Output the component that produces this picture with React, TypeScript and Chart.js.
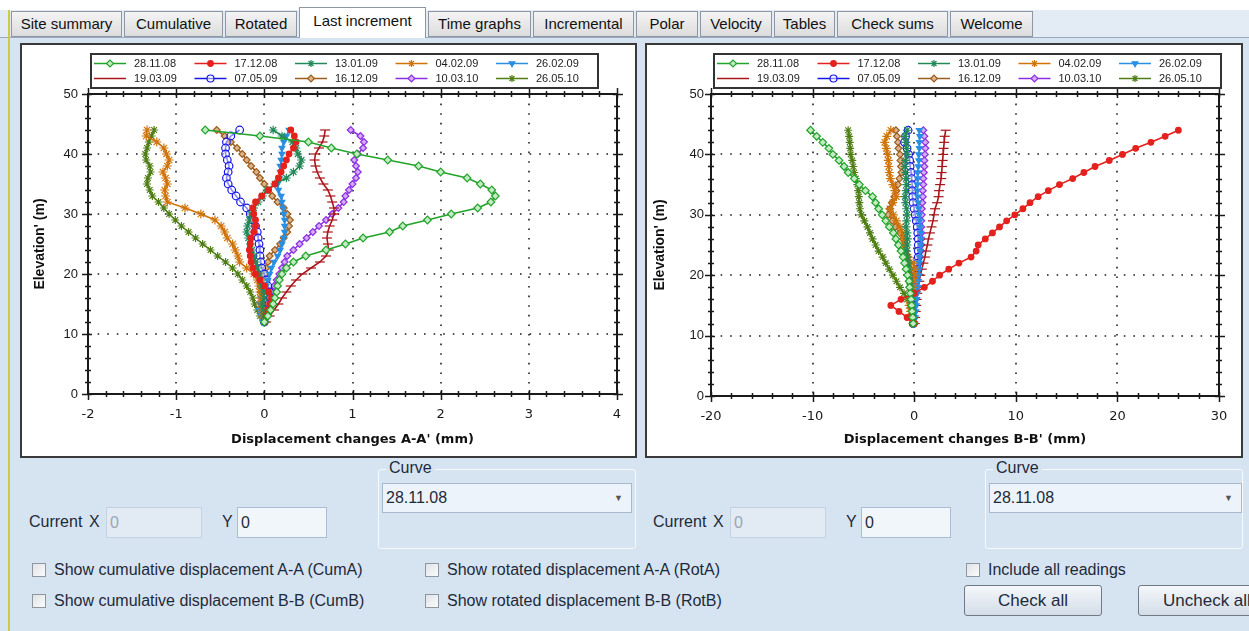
import React, { useEffect, useRef } from 'react';
import { Chart, registerables } from 'chart.js';
import { drawPoint } from 'chart.js/helpers';

Chart.register(...registerables);
Chart.defaults.font.family = '"Liberation Sans", Arial, sans-serif';

// ---------- data ----------
const ELEVATION = [44, 43, 42, 41, 40, 39, 38, 37, 36, 35, 34, 33, 32, 31, 30, 29, 28, 27, 26, 25, 24, 23, 22, 21, 20, 19, 18, 17, 16, 15, 14, 13, 12];
const READING_DATES = ['28.11.08', '17.12.08', '13.01.09', '04.02.09', '26.02.09', '19.03.09', '07.05.09', '16.12.09', '10.03.10', '26.05.10'];

const A_X_TICKS = [-2, -1, 0, 1, 2, 3, 4];
const B_X_TICKS = [-20, -10, 0, 10, 20, 30];
const Y_TICKS = [0, 10, 20, 30, 40, 50];

// Displacement changes A-A' (mm)
const A_28_11_08 = [-0.67, -0.05, 0.5, 0.76, 1.05, 1.4, 1.75, 2.0, 2.3, 2.45, 2.58, 2.62, 2.57, 2.42, 2.12, 1.85, 1.57, 1.42, 1.12, 0.92, 0.7, 0.47, 0.33, 0.25, 0.2, 0.17, 0.15, 0.14, 0.12, 0.1, 0.07, 0.04, 0.0];
const A_17_12_08 = [0.3, 0.34, 0.36, 0.33, 0.28, 0.25, 0.22, 0.19, 0.16, 0.12, 0.05, -0.03, -0.1, -0.13, -0.12, -0.1, -0.1, -0.12, -0.15, -0.16, -0.17, -0.16, -0.15, -0.13, -0.1, -0.05, 0.0, 0.05, 0.08, 0.06, 0.04, 0.02, 0.0];
const A_13_01_09 = [0.1, 0.2, 0.32, 0.36, 0.38, 0.42, 0.4, 0.33, 0.25, 0.12, 0.03, -0.02, -0.07, -0.12, -0.15, -0.17, -0.19, -0.2, -0.18, -0.16, -0.14, -0.12, -0.1, -0.08, -0.06, -0.04, -0.03, -0.01, 0.0, -0.02, -0.01, 0.0, 0.0];
const A_04_02_09 = [-1.33, -1.34, -1.22, -1.14, -1.11, -1.08, -1.1, -1.15, -1.12, -1.1, -1.13, -1.12, -1.1, -0.9, -0.72, -0.56, -0.49, -0.45, -0.42, -0.36, -0.33, -0.3, -0.28, -0.2, -0.12, -0.08, -0.06, -0.05, -0.04, -0.04, -0.03, -0.02, 0.0];
const A_26_02_09 = [0.28, 0.25, 0.22, 0.2, 0.2, 0.19, 0.18, 0.18, 0.17, 0.15, 0.16, 0.19, 0.2, 0.21, 0.22, 0.23, 0.23, 0.23, 0.22, 0.2, 0.18, 0.15, 0.11, 0.08, 0.06, 0.04, 0.02, -0.01, -0.04, -0.05, -0.06, -0.04, -0.02];
const A_19_03_09 = [0.69, 0.68, 0.66, 0.62, 0.58, 0.57, 0.58, 0.6, 0.63, 0.67, 0.72, 0.75, 0.77, 0.79, 0.79, 0.77, 0.74, 0.72, 0.71, 0.72, 0.73, 0.7, 0.63, 0.53, 0.43, 0.36, 0.3, 0.25, 0.2, 0.16, 0.11, 0.06, 0.02];
const A_07_05_09 = [-0.28, -0.38, -0.43, -0.44, -0.44, -0.42, -0.4, -0.41, -0.43, -0.41, -0.37, -0.32, -0.27, -0.2, -0.16, -0.13, -0.1, -0.08, -0.07, -0.06, -0.05, -0.05, -0.04, -0.03, 0.0, 0.02, 0.04, 0.06, 0.07, 0.05, 0.02, 0.01, 0.0];
const A_16_12_09 = [-0.54, -0.45, -0.38, -0.31, -0.25, -0.2, -0.15, -0.09, -0.05, 0.0, 0.04, 0.09, 0.15, 0.22, 0.26, 0.29, 0.28, 0.26, 0.22, 0.18, 0.12, 0.06, 0.04, 0.02, 0.0, -0.02, -0.04, -0.04, -0.03, -0.02, -0.02, -0.01, 0.0];
const A_10_03_10 = [0.98, 1.09, 1.13, 1.12, 1.06, 1.02, 1.04, 1.06, 1.04, 1.0, 0.96, 0.92, 0.9, 0.84, 0.77, 0.7, 0.62, 0.55, 0.48, 0.4, 0.33, 0.26, 0.23, 0.2, 0.17, 0.14, 0.11, 0.08, 0.05, 0.03, 0.02, 0.01, 0.0];
const A_26_05_10 = [-1.25, -1.28, -1.31, -1.33, -1.35, -1.34, -1.3, -1.29, -1.32, -1.33, -1.3, -1.27, -1.2, -1.14, -1.08, -1.01, -0.94, -0.86, -0.78, -0.7, -0.61, -0.53, -0.44, -0.36, -0.3, -0.25, -0.2, -0.16, -0.13, -0.11, -0.08, -0.05, 0.0];

// Displacement changes B-B' (mm)
const B_28_11_08 = [-10.2, -9.6, -9.0, -8.4, -8.0, -7.4, -6.9, -6.5, -5.9, -5.4, -4.8, -4.1, -3.8, -3.5, -3.15, -2.8, -2.45, -2.05, -1.8, -1.55, -1.3, -1.1, -0.95, -0.8, -0.65, -0.5, -0.45, -0.38, -0.3, -0.25, -0.2, -0.15, -0.1];
const B_17_12_08 = [26.0, 24.7, 23.3, 21.8, 20.5, 19.2, 17.8, 16.7, 15.6, 14.3, 13.2, 12.2, 11.4, 10.7, 9.9, 9.1, 8.4, 7.7, 7.0, 6.3, 6.1, 5.6, 4.4, 3.4, 2.5, 1.8, 1.0, 0.0, -1.3, -2.3, -1.5, -0.7, 0.0];
const B_13_01_09 = [-0.7, -0.9, -0.8, -0.75, -0.7, -0.85, -0.9, -0.85, -0.8, -0.75, -0.8, -0.9, -0.85, -0.75, -0.7, -0.75, -0.8, -0.7, -0.65, -0.7, -0.75, -0.7, -0.6, -0.55, -0.5, -0.45, -0.4, -0.3, -0.3, -0.25, -0.2, -0.15, -0.1];
const B_04_02_09 = [-2.3, -2.7, -2.9, -2.75, -2.6, -2.55, -2.5, -2.45, -2.35, -2.1, -1.9, -1.75, -2.1, -2.4, -2.05, -1.75, -1.4, -1.15, -1.0, -0.95, -0.9, -0.6, -0.1, 0.0, 0.0, -0.05, -0.15, -0.3, -0.45, -0.5, -0.35, -0.2, -0.1];
const B_26_02_09 = [0.5, 0.55, 0.5, 0.5, 0.45, 0.45, 0.4, 0.35, 0.35, 0.3, 0.3, 0.35, 0.4, 0.45, 0.5, 0.55, 0.6, 0.65, 0.7, 0.65, 0.6, 0.55, 0.5, 0.5, 0.45, 0.4, 0.35, 0.3, 0.25, 0.2, 0.15, 0.1, 0.05];
const B_19_03_09 = [3.1, 3.0, 2.95, 2.9, 2.85, 2.8, 2.75, 2.7, 2.65, 2.55, 2.45, 2.4, 2.25, 2.05, 1.95, 1.85, 1.7, 1.55, 1.4, 1.3, 1.15, 1.05, 0.9, 0.75, 0.6, 0.5, 0.4, 0.3, 0.25, 0.2, 0.15, 0.1, 0.05];
const B_07_05_09 = [-0.6, -0.85, -0.95, -0.7, -0.55, -0.45, -0.4, -0.3, -0.25, -0.2, -0.2, -0.15, -0.1, 0.0, 0.1, 0.2, 0.3, 0.35, 0.4, 0.4, 0.4, 0.4, 0.35, 0.3, 0.2, 0.15, 0.1, 0.05, 0.0, -0.05, -0.1, -0.1, -0.1];
const B_16_12_09 = [-1.8, -1.7, -1.6, -1.55, -1.4, -1.35, -1.3, -1.25, -1.45, -1.6, -1.75, -1.95, -2.2, -2.4, -2.55, -2.15, -1.85, -1.4, -1.1, -0.95, -0.8, -0.65, -0.5, -0.4, -0.3, -0.25, -0.2, -0.15, -0.15, -0.15, -0.15, -0.1, -0.1];
const B_10_03_10 = [0.9, 1.0, 1.1, 1.1, 1.05, 1.0, 1.0, 0.95, 0.9, 0.9, 0.85, 0.85, 0.8, 0.75, 0.75, 0.7, 0.7, 0.7, 0.7, 0.7, 0.65, 0.55, 0.45, 0.35, 0.3, 0.25, 0.2, 0.15, 0.1, 0.05, 0.0, 0.0, 0.0];
const B_26_05_10 = [-6.5, -6.4, -6.35, -6.3, -6.25, -6.1, -6.0, -5.9, -5.75, -5.6, -5.5, -5.45, -5.4, -5.35, -5.2, -4.9, -4.6, -4.35, -4.1, -3.8, -3.5, -3.1, -2.8, -2.45, -2.1, -1.75, -1.4, -1.0, -0.7, -0.4, -0.3, -0.2, -0.1];

const SERIES_A = [A_28_11_08, A_17_12_08, A_13_01_09, A_04_02_09, A_26_02_09, A_19_03_09, A_07_05_09, A_16_12_09, A_10_03_10, A_26_05_10];
const SERIES_B = [B_28_11_08, B_17_12_08, B_13_01_09, B_04_02_09, B_26_02_09, B_19_03_09, B_07_05_09, B_16_12_09, B_10_03_10, B_26_05_10];

// ---------- styles ----------
const SERIES_STYLE = [
  { color: '#22a32a', fill: '#c4ecc4', point: 'rectRot', radius: 3.8, rotation: 0, legendMarker: true },
  { color: '#e5211d', fill: '#e5211d', point: 'circle', radius: 2.8, rotation: 0, legendMarker: true },
  { color: '#23895a', fill: '#23895a', point: 'star', radius: 4.3, rotation: 0, legendMarker: true },
  { color: '#d07309', fill: '#d07309', point: 'star', radius: 4.5, rotation: 0, legendMarker: true },
  { color: '#2a8ee2', fill: '#2a8ee2', point: 'triangle', radius: 3.3, rotation: 180, legendMarker: true },
  { color: '#a8151a', fill: '#a8151a', point: 'line', radius: 5, rotation: 0, legendMarker: false },
  { color: '#1515e8', fill: 'rgba(255,255,255,0.5)', point: 'circle', radius: 3.8, rotation: 0, legendMarker: true },
  { color: '#9c5c1e', fill: '#dcb48a', point: 'rectRot', radius: 3.4, rotation: 0, legendMarker: true },
  { color: '#8c2ee3', fill: '#d5acf6', point: 'rectRot', radius: 3.4, rotation: 0, legendMarker: true },
  { color: '#4f7e14', fill: '#4f7e14', point: 'star', radius: 4, rotation: 0, legendMarker: true },
];

const UI_FONT = '"Liberation Sans", Arial, sans-serif';
const WIDE_FONT = '"DejaVu Sans", Verdana, sans-serif';

// ---------- plugins ----------
const framePlugin = {
  id: 'frameTicks',
  beforeDatasetsDraw(chart: any, _args: any, opts: any) {
    const { ctx, chartArea: ca } = chart;
    const xs = chart.scales.x;
    const ys = chart.scales.y;
    ctx.save();
    ctx.strokeStyle = '#1e1e1e';
    ctx.lineWidth = 1.6;
    ctx.setLineDash([1.6, 8]);
    opts.xTicks.slice(1, -1).forEach((v: number) => {
      const px = Math.round(xs.getPixelForValue(v));
      ctx.beginPath();
      ctx.moveTo(px, ca.top);
      ctx.lineTo(px, ca.bottom);
      ctx.stroke();
    });
    opts.yTicks.slice(1, -1).forEach((v: number) => {
      const py = Math.round(ys.getPixelForValue(v));
      ctx.beginPath();
      ctx.moveTo(ca.left, py);
      ctx.lineTo(ca.right, py);
      ctx.stroke();
    });
    ctx.restore();
  },
  afterDatasetsDraw(chart: any, _args: any, opts: any) {
    const { ctx, chartArea: ca } = chart;
    const xs = chart.scales.x;
    const ys = chart.scales.y;
    ctx.save();
    ctx.strokeStyle = '#1a1a1a';
    ctx.lineWidth = 2;
    ctx.strokeRect(ca.left, ca.top, ca.right - ca.left, ca.bottom - ca.top);
    ctx.lineWidth = 1.5;
    const xMin = opts.xTicks[0];
    const xMax = opts.xTicks[opts.xTicks.length - 1];
    const nx = Math.round((xMax - xMin) / opts.xMinor);
    const perX = Math.round((opts.xTicks[1] - opts.xTicks[0]) / opts.xMinor);
    for (let k = 0; k <= nx; k++) {
      const px = Math.round(xs.getPixelForValue(xMin + k * opts.xMinor)) + 0.5;
      const major = k % perX === 0;
      const out = major ? 6 : 3;
      const inn = major ? 4 : 3;
      ctx.beginPath();
      ctx.moveTo(px, ca.bottom - inn);
      ctx.lineTo(px, ca.bottom + out);
      ctx.moveTo(px, ca.top - out);
      ctx.lineTo(px, ca.top + inn);
      ctx.stroke();
    }
    const yMin = opts.yTicks[0];
    const yMax = opts.yTicks[opts.yTicks.length - 1];
    const ny = Math.round((yMax - yMin) / opts.yMinor);
    const perY = Math.round((opts.yTicks[1] - opts.yTicks[0]) / opts.yMinor);
    for (let k = 0; k <= ny; k++) {
      const py = Math.round(ys.getPixelForValue(yMin + k * opts.yMinor)) + 0.5;
      const major = k % perY === 0;
      const out = major ? 6 : 3;
      const inn = major ? 4 : 3;
      ctx.beginPath();
      ctx.moveTo(ca.left - out, py);
      ctx.lineTo(ca.left + inn, py);
      ctx.moveTo(ca.right - inn, py);
      ctx.lineTo(ca.right + out, py);
      ctx.stroke();
    }
    ctx.restore();
  },
};

const legendPlugin = {
  id: 'gridLegend',
  afterDraw(chart: any) {
    const { ctx, chartArea: ca } = chart;
    const bx = Math.round(ca.left) + 3;
    const by = 9;
    const bw = 507;
    const bh = 34;
    ctx.save();
    ctx.fillStyle = '#ffffff';
    ctx.fillRect(bx, by, bw, bh);
    ctx.strokeStyle = '#333333';
    ctx.lineWidth = 2;
    ctx.strokeRect(bx, by, bw, bh);
    ctx.font = '11px ' + UI_FONT;
    ctx.textBaseline = 'middle';
    ctx.textAlign = 'left';
    chart.data.datasets.forEach((ds: any, i: number) => {
      const col = i % 5;
      const row = Math.floor(i / 5);
      const x0 = bx + 3 + col * 100.5;
      const y0 = by + 9.5 + row * 15;
      ctx.strokeStyle = ds.borderColor;
      ctx.lineWidth = 1.5;
      ctx.beginPath();
      ctx.moveTo(x0, y0);
      ctx.lineTo(x0 + 32, y0);
      ctx.stroke();
      if (ds.legendMarker) {
        ctx.fillStyle = ds.pointBackgroundColor;
        ctx.strokeStyle = ds.borderColor;
        ctx.lineWidth = 1.2;
        drawPoint(ctx, { pointStyle: ds.pointStyle, rotation: ds.pointRotation, radius: Math.min(ds.pointRadius, 3.5), borderWidth: 1.2 }, x0 + 16, y0);
      }
      ctx.fillStyle = '#1c1c1c';
      ctx.fillText(ds.label, x0 + 40, y0 + 0.5);
    });
    ctx.restore();
  },
};

// ---------- chart component ----------
type ProfileProps = {
  series: number[][];
  xTicks: number[];
  xMinor: number;
  xTitle: string;
  width: number;
  height: number;
  padRight: number;
  yAxisWidth: number;
  xAxisHeight: number;
  yTitlePad: number;
  yTickPad: number;
};

function ProfileChart(p: ProfileProps) {
  const ref = useRef<HTMLCanvasElement>(null);
  useEffect(() => {
    if (!ref.current) return;
    const datasets = p.series.map((vals, i) => {
      const st = SERIES_STYLE[i];
      return {
        label: READING_DATES[i],
        data: ELEVATION.map((e, k) => ({ x: vals[k], y: e })),
        showLine: true,
        borderColor: st.color,
        backgroundColor: st.fill,
        borderWidth: 1.6,
        pointStyle: st.point,
        pointRotation: st.rotation,
        pointRadius: st.radius,
        pointBorderWidth: 1.2,
        pointBorderColor: st.color,
        pointBackgroundColor: st.fill,
        legendMarker: st.legendMarker,
        tension: 0,
      };
    });
    const chart = new Chart(ref.current, {
      type: 'scatter',
      data: { datasets } as any,
      options: {
        animation: false,
        responsive: false,
        events: [],
        layout: { padding: { top: 49, right: p.padRight, left: 0, bottom: 0 } },
        plugins: {
          legend: { display: false },
          tooltip: { enabled: false },
          frameTicks: { xTicks: p.xTicks, xMinor: p.xMinor, yTicks: Y_TICKS, yMinor: 2 },
        } as any,
        scales: {
          x: {
            type: 'linear',
            min: p.xTicks[0],
            max: p.xTicks[p.xTicks.length - 1],
            grid: { display: false, drawTicks: false },
            border: { display: false },
            ticks: { stepSize: p.xTicks[1] - p.xTicks[0], color: '#1a1a1a', font: { size: 13, family: WIDE_FONT }, padding: 13, maxRotation: 0, autoSkip: false },
            title: { display: true, text: p.xTitle, color: '#111', font: { size: 13, weight: 'bold', family: WIDE_FONT }, padding: { top: 0, bottom: 9 } },
            afterFit: (s: any) => { s.height = p.xAxisHeight; },
          },
          y: {
            type: 'linear',
            min: Y_TICKS[0],
            max: Y_TICKS[Y_TICKS.length - 1],
            grid: { display: false, drawTicks: false },
            border: { display: false },
            ticks: { stepSize: Y_TICKS[1] - Y_TICKS[0], color: '#1a1a1a', font: { size: 13 }, padding: p.yTickPad },
            title: { display: true, text: "Elevation' (m)", color: '#111', font: { size: 14, weight: 'bold' }, padding: { top: p.yTitlePad, bottom: 0 } },
            afterFit: (s: any) => { s.width = p.yAxisWidth; },
          },
        } as any,
      },
      plugins: [framePlugin, legendPlugin],
    });
    return () => chart.destroy();
  }, []);
  return <canvas ref={ref} width={p.width} height={p.height} style={{ display: 'block', width: p.width, height: p.height }} />;
}

// ---------- UI bits ----------
const TABS = [
  { label: 'Site summary', left: 11, width: 111 },
  { label: 'Cumulative', left: 124, width: 99 },
  { label: 'Rotated', left: 225, width: 72 },
  { label: 'Last increment', left: 299, width: 127, active: true },
  { label: 'Time graphs', left: 428, width: 103 },
  { label: 'Incremental', left: 533, width: 101 },
  { label: 'Polar', left: 636, width: 62 },
  { label: 'Velocity', left: 700, width: 72 },
  { label: 'Tables', left: 774, width: 61 },
  { label: 'Check sums', left: 837, width: 111 },
  { label: 'Welcome', left: 950, width: 83 },
];

const abs = (left: number, top: number, extra: React.CSSProperties = {}): React.CSSProperties => ({ position: 'absolute', left, top, ...extra });

function Label({ x, y, text, color = '#1e2a3a' }: { x: number; y: number; text: string; color?: string }) {
  return <div style={abs(x, y - 10, { fontSize: 16, lineHeight: '20px', color, whiteSpace: 'nowrap' })}>{text}</div>;
}

function TextBox({ x, w, value, disabled }: { x: number; w: number; value: string; disabled?: boolean }) {
  return (
    <div style={abs(x, 507, { width: w, height: 31, boxSizing: 'border-box', border: '1px solid ' + (disabled ? '#c3d1e2' : '#a9bcd3'), background: disabled ? '#e2eaf4' : '#f1f6fb', fontSize: 16, lineHeight: '29px', paddingLeft: 3, color: disabled ? '#9aa6b4' : '#1e2a3a' })}>{value}</div>
  );
}

function CurveGroup({ x, w, ddW }: { x: number; w: number; ddW: number }) {
  return (
    <>
      <div style={abs(x, 469, { width: w, height: 80, boxSizing: 'border-box', border: '1px solid #f6f9fd', borderRadius: 3 })} />
      <div style={abs(x + 8, 458, { fontSize: 16, lineHeight: '20px', color: '#1e2a3a', background: '#d6e4f2', padding: '0 3px' })}>Curve</div>
      <div style={abs(x + 4, 483, { width: ddW, height: 30, boxSizing: 'border-box', border: '1px solid #a7b9cf', background: '#edf3fa', fontSize: 16, lineHeight: '28px', paddingLeft: 3, color: '#1e2a3a' })}>
        28.11.08
        <span style={{ position: 'absolute', right: 8, top: 0, fontSize: 9, color: '#555' }}>▼</span>
      </div>
    </>
  );
}

function CheckBox({ x, y, text }: { x: number; y: number; text: string }) {
  return (
    <>
      <div style={abs(x, y - 7, { width: 14, height: 14, boxSizing: 'border-box', border: '1px solid #8f969e', background: 'linear-gradient(135deg, #dfe3e8, #fbfbfb)' })} />
      <div style={abs(x + 22, y - 10, { fontSize: 16, lineHeight: '20px', color: '#1e2a3a', whiteSpace: 'nowrap' })}>{text}</div>
    </>
  );
}

function Button({ x, w, text, padLeft }: { x: number; w: number; text: string; padLeft?: number }) {
  return (
    <div style={abs(x, 585, { width: w, height: 31, boxSizing: 'border-box', border: '1px solid #707a86', borderRadius: 3, background: 'linear-gradient(#f4f7fa, #d3dde8)', fontSize: 17, lineHeight: '29px', textAlign: padLeft ? 'left' : 'center', paddingLeft: padLeft || 0, color: '#1e2a3a', whiteSpace: 'nowrap', overflow: 'hidden' })}>{text}</div>
  );
}

export default function App() {
  return (
    <div style={{ position: 'relative', width: 1249, height: 631, overflow: 'hidden', background: '#d6e4f2', fontFamily: UI_FONT }}>
      <style>{'body{margin:0;}'}</style>
      {/* tab strip */}
      <div style={abs(0, 0, { width: 1249, height: 10, background: '#ffffff' })} />
      <div style={abs(0, 10, { width: 1249, height: 27, background: '#e3ebf5', borderBottom: '1px solid #9aa9bc' })} />
      {TABS.map((t) => (
        <div key={t.label} style={abs(t.left, t.active ? 7 : 11, {
          width: t.width,
          height: t.active ? 31 : 26,
          boxSizing: 'border-box',
          border: '1px solid #8d96a2',
          borderBottom: t.active ? 'none' : '1px solid #8d96a2',
          background: t.active ? '#ffffff' : 'linear-gradient(#f4f4f4, #dcdcdc)',
          fontSize: 15,
          lineHeight: t.active ? '26px' : '24px',
          textAlign: 'center',
          color: '#111',
          whiteSpace: 'nowrap',
          zIndex: t.active ? 2 : 1,
        })}>{t.label}</div>
      ))}
      {/* left yellow edge */}
      <div style={abs(8, 10, { width: 2, height: 621, background: '#cfc94a' })} />

      {/* chart panels */}
      <div style={abs(20, 43, { width: 617, height: 415, boxSizing: 'border-box', border: '2px solid #3a3a3a', background: '#ffffff' })}>
        <ProfileChart series={SERIES_A} xTicks={A_X_TICKS} xMinor={0.2} xTitle="Displacement changes A-A' (mm)"
          width={613} height={411} padRight={18} yAxisWidth={66} xAxisHeight={62} yTitlePad={10} yTickPad={10} />
      </div>
      <div style={abs(645, 43, { width: 598, height: 415, boxSizing: 'border-box', border: '2px solid #3a3a3a', background: '#ffffff' })}>
        <ProfileChart series={SERIES_B} xTicks={B_X_TICKS} xMinor={2} xTitle="Displacement changes B-B' (mm)"
          width={594} height={411} padRight={22} yAxisWidth={64} xAxisHeight={60} yTitlePad={5} yTickPad={7} />
      </div>

      {/* left controls */}
      <Label x={29} y={522} text="Current" />
      <Label x={89} y={522} text="X" />
      <TextBox x={106} w={96} value="0" disabled />
      <Label x={222} y={522} text="Y" />
      <TextBox x={237} w={90} value="0" />
      <CurveGroup x={378} w={258} ddW={250} />
      <CheckBox x={32} y={570} text="Show cumulative displacement A-A (CumA)" />
      <CheckBox x={32} y={601} text="Show cumulative displacement B-B (CumB)" />
      <CheckBox x={425} y={570} text="Show rotated displacement A-A (RotA)" />
      <CheckBox x={425} y={601} text="Show rotated displacement B-B (RotB)" />

      {/* right controls */}
      <Label x={653} y={522} text="Current" />
      <Label x={713} y={522} text="X" />
      <TextBox x={730} w={96} value="0" disabled />
      <Label x={846} y={522} text="Y" />
      <TextBox x={861} w={90} value="0" />
      <CurveGroup x={985} w={258} ddW={253} />
      <CheckBox x={966} y={570} text="Include all readings" />
      <Button x={964} w={138} text="Check all" />
      <Button x={1138} w={150} text="Uncheck all" padLeft={24} />
    </div>
  );
}
